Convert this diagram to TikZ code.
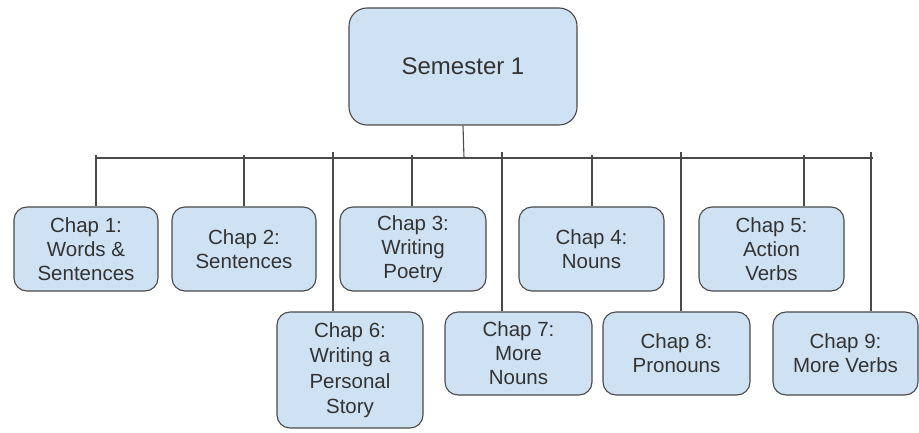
\documentclass[tikz,border=0pt]{standalone}
\usepackage{fontspec}
\setmainfont{Liberation Sans}
\definecolor{boxfill}{HTML}{CFE2F3}
\definecolor{edgec}{HTML}{4A4A4A}
\definecolor{txtc}{HTML}{333333}
\begin{document}
\begin{tikzpicture}[x=1pt,y=-1pt]
\tikzset{
  chapbox/.style={draw=edgec, line width=1.1pt, fill=boxfill, rounded corners=13pt,
    inner sep=0pt, align=center, text=txtc, font=\fontsize{20.5}{24}\selectfont,
    minimum height=84pt},
  wire/.style={draw=edgec, line width=1.1pt},
}
\useasboundingbox[fill=white] (0,0) rectangle (919,433);
% nodes
\node[chapbox, rounded corners=18pt, minimum width=228pt, minimum height=117pt,
      font=\fontsize{24}{28}\selectfont] (sem) at (463,66.5) {Semester 1};
\node[chapbox, minimum width=144pt] (c1) at (86,249) {Chap 1:\\Words \&\\Sentences};
\node[chapbox, minimum width=144pt] (c2) at (244,249) {Chap 2:\\Sentences};
\node[chapbox, minimum width=146pt] (c3) at (413,249) {Chap 3:\\Writing\\Poetry};
\node[chapbox, minimum width=145pt] (c4) at (591.5,249) {Chap 4:\\Nouns};
\node[chapbox, minimum width=145pt] (c5) at (771.5,249) {Chap 5:\\Action\\Verbs};
\node[chapbox, minimum width=146pt, minimum height=116pt,
      font=\fontsize{20.5}{25.5}\selectfont] (c6) at (350,370) {Chap 6:\\Writing a\\Personal\\Story};
\node[chapbox, minimum width=147pt, minimum height=83pt] (c7) at (518.5,353.5) {Chap 7:\\More\\Nouns};
\node[chapbox, minimum width=147pt, minimum height=83pt] (c8) at (676.5,353.5) {Chap 8:\\Pronouns};
\node[chapbox, minimum width=145pt, minimum height=83pt] (c9) at (845.5,353.5) {Chap 9:\\More Verbs};
% connectors
\coordinate (bl) at (97,158);
\coordinate (br) at (873,158);
\coordinate (s0) at (464,158);
\draw[wire] (bl) -- (br);
\draw[wire] (sem.south) -- (s0);
\coordinate (t1) at (96,155);
\coordinate (t2) at (244,155);
\coordinate (t3) at (412,155);
\coordinate (t4) at (592,155);
\coordinate (t5) at (804,155);
\coordinate (t6) at (333,152);
\coordinate (t7) at (502,152);
\coordinate (t8) at (681,152);
\coordinate (t9) at (871,152);
\draw[wire] (t1) -- (t1 |- c1.north);
\draw[wire] (t2) -- (t2 |- c2.north);
\draw[wire] (t3) -- (t3 |- c3.north);
\draw[wire] (t4) -- (t4 |- c4.north);
\draw[wire] (t5) -- (t5 |- c5.north);
\draw[wire] (t6) -- (t6 |- c6.north);
\draw[wire] (t7) -- (t7 |- c7.north);
\draw[wire] (t8) -- (t8 |- c8.north);
\draw[wire] (t9) -- (t9 |- c9.north);
\end{tikzpicture}
\end{document}
